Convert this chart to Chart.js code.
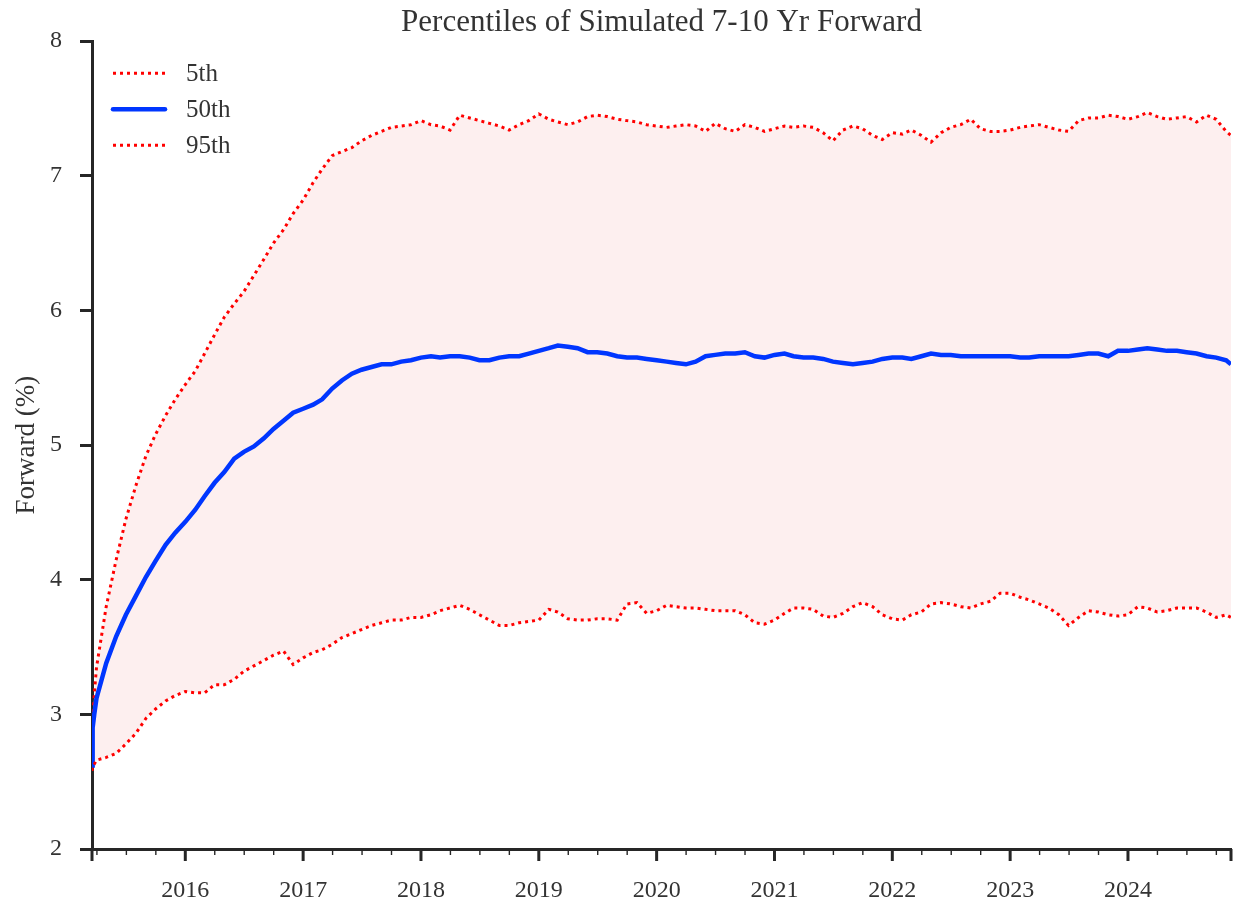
<!DOCTYPE html>
<html lang="en">
<head>
    <meta charset="UTF-8">
    <title>Percentiles of Simulated 7-10 Yr Forward</title>
    <style>
        * {
            margin: 0;
            padding: 0;
            box-sizing: border-box;
        }

        body {
            background-color: #ffffff;
        }

        canvas {
            display: block;
        }
    </style>
    <script src="https://cdn.jsdelivr.net/npm/chart.js@4/dist/chart.umd.min.js"></script>
</head>
<body>
    <canvas id="fwdChart" width="1237" height="905"></canvas>

    <script>
        // Dates: first few days of the simulation, then the first of each month
        const dates = ['2015-03-18', '2015-03-19', '2015-03-21', '2015-03-25'];
        for (let y = 2015; y <= 2024; y++) {
            for (let m = 1; m <= 12; m++) {
                if (y === 2015 && m < 4) continue;
                if (y === 2024 && m > 11) break;
                dates.push(y + '-' + String(m).padStart(2, '0') + '-01');
            }
        }
        dates.push('2024-11-16');

        const yearTicks = [2016, 2017, 2018, 2019, 2020, 2021, 2022, 2023, 2024];

        // 95th percentile (%)
        const p95 = [
            2.60, 2.80, 3.00, 3.15, 3.35, 3.80, 4.15, 4.45, 4.70, 4.92, 5.08, 5.22, 5.34,
            5.45, 5.55, 5.68, 5.82, 5.95, 6.05, 6.14, 6.26, 6.38, 6.50, 6.60, 6.72,
            6.82, 6.95, 7.05, 7.15, 7.18, 7.21, 7.26, 7.30, 7.33, 7.36, 7.37, 7.38,
            7.41, 7.38, 7.37, 7.34, 7.45, 7.43, 7.41, 7.39, 7.37, 7.34, 7.38, 7.41,
            7.46, 7.42, 7.40, 7.38, 7.40, 7.44, 7.45, 7.44, 7.42, 7.41, 7.40, 7.38,
            7.37, 7.36, 7.37, 7.38, 7.37, 7.33, 7.39, 7.35, 7.33, 7.38, 7.36, 7.33,
            7.35, 7.37, 7.36, 7.37, 7.36, 7.32, 7.26, 7.34, 7.37, 7.35, 7.30, 7.27,
            7.32, 7.31, 7.34, 7.30, 7.25, 7.32, 7.36, 7.38, 7.42, 7.35, 7.33, 7.33,
            7.34, 7.36, 7.37, 7.38, 7.36, 7.34, 7.33, 7.41, 7.43, 7.43, 7.45, 7.44,
            7.42, 7.44, 7.47, 7.44, 7.42, 7.43, 7.44, 7.40, 7.45, 7.42, 7.33, 7.30
        ];

        // 50th percentile (%)
        const p50 = [
            2.62, 2.80, 2.90, 3.00, 3.12, 3.38, 3.58, 3.74, 3.88, 4.02, 4.14, 4.26, 4.35,
            4.43, 4.52, 4.62, 4.72, 4.80, 4.90, 4.95, 4.99, 5.05, 5.12, 5.18, 5.24,
            5.27, 5.30, 5.34, 5.42, 5.48, 5.53, 5.56, 5.58, 5.60, 5.60, 5.62, 5.63,
            5.65, 5.66, 5.65, 5.66, 5.66, 5.65, 5.63, 5.63, 5.65, 5.66, 5.66, 5.68,
            5.70, 5.72, 5.74, 5.73, 5.72, 5.69, 5.69, 5.68, 5.66, 5.65, 5.65, 5.64,
            5.63, 5.62, 5.61, 5.60, 5.62, 5.66, 5.67, 5.68, 5.68, 5.69, 5.66, 5.65,
            5.67, 5.68, 5.66, 5.65, 5.65, 5.64, 5.62, 5.61, 5.60, 5.61, 5.62, 5.64,
            5.65, 5.65, 5.64, 5.66, 5.68, 5.67, 5.67, 5.66, 5.66, 5.66, 5.66, 5.66,
            5.66, 5.65, 5.65, 5.66, 5.66, 5.66, 5.66, 5.67, 5.68, 5.68, 5.66, 5.70,
            5.70, 5.71, 5.72, 5.71, 5.70, 5.70, 5.69, 5.68, 5.66, 5.65, 5.63, 5.60
        ];

        // 5th percentile (%)
        const p5 = [
            2.58, 2.60, 2.62, 2.63, 2.66, 2.68, 2.71, 2.78, 2.86, 2.97, 3.04, 3.10, 3.14,
            3.17, 3.16, 3.16, 3.22, 3.22, 3.26, 3.32, 3.36, 3.40, 3.44, 3.47, 3.37,
            3.42, 3.46, 3.48, 3.52, 3.57, 3.60, 3.63, 3.66, 3.68, 3.70, 3.70, 3.72,
            3.72, 3.74, 3.77, 3.79, 3.81, 3.78, 3.74, 3.70, 3.66, 3.66, 3.68, 3.69,
            3.70, 3.78, 3.76, 3.71, 3.70, 3.70, 3.71, 3.71, 3.70, 3.82, 3.83, 3.75,
            3.77, 3.81, 3.80, 3.79, 3.79, 3.78, 3.77, 3.77, 3.77, 3.74, 3.68, 3.67,
            3.70, 3.75, 3.79, 3.79, 3.78, 3.73, 3.72, 3.75, 3.80, 3.83, 3.80, 3.74,
            3.71, 3.70, 3.74, 3.76, 3.82, 3.83, 3.82, 3.80, 3.79, 3.82, 3.84, 3.90,
            3.90, 3.87, 3.85, 3.82, 3.79, 3.74, 3.66, 3.72, 3.77, 3.76, 3.74, 3.73,
            3.74, 3.80, 3.79, 3.76, 3.77, 3.79, 3.79, 3.79, 3.76, 3.72, 3.74, 3.72
        ];

        const SERIF = "'Liberation Serif', 'DejaVu Serif', serif";
        const INK = '#333333';
        const AXIS = '#262626';
        const RED = '#ff0000';
        const BLUE = '#0036ff';

        // date string -> decimal year
        function toYear(s) {
            const [y, m, d] = s.split('-').map(Number);
            const start = Date.UTC(y, 0, 1);
            const len = Date.UTC(y + 1, 0, 1) - start;
            return y + (Date.UTC(y, m - 1, d) - start) / len;
        }

        const xs = dates.map(toYear);
        const toPoints = arr => arr.map((v, i) => ({ x: xs[i], y: v }));

        // quarterly minor ticks and the thick end ticks on the date axis
        const dateTicks = {
            id: 'dateTicks',
            afterDraw(chart) {
                const ctx = chart.ctx;
                const xScale = chart.scales.x;
                const y0 = chart.chartArea.bottom;
                ctx.save();
                ctx.strokeStyle = AXIS;
                for (let q = 2015.25; q <= 2024.75; q += 0.25) {
                    const px = xScale.getPixelForValue(q);
                    const major = Math.abs(q - Math.round(q)) < 1e-6;
                    ctx.lineWidth = major ? 3 : 1.4;
                    ctx.beginPath();
                    ctx.moveTo(px, y0);
                    ctx.lineTo(px, y0 + (major ? 12 : 6));
                    ctx.stroke();
                }
                ctx.lineWidth = 3;
                [xScale.min, xScale.max].forEach(v => {
                    const px = xScale.getPixelForValue(v);
                    ctx.beginPath();
                    ctx.moveTo(px, y0);
                    ctx.lineTo(px, y0 + 12);
                    ctx.stroke();
                });
                ctx.restore();
            }
        };

        // legend in the top-left corner of the plot
        const cornerLegend = {
            id: 'cornerLegend',
            afterDraw(chart) {
                const ctx = chart.ctx;
                const area = chart.chartArea;
                ctx.save();
                chart.data.datasets.forEach((ds, row) => {
                    const y = area.top + 32 + row * 36;
                    ctx.strokeStyle = ds.borderColor;
                    ctx.lineWidth = ds.borderWidth;
                    ctx.setLineDash(ds.borderDash || []);
                    ctx.lineCap = ds.borderDash ? 'butt' : 'round';
                    ctx.beginPath();
                    ctx.moveTo(area.left + 21, y);
                    ctx.lineTo(area.left + 73, y);
                    ctx.stroke();
                    ctx.setLineDash([]);
                    ctx.fillStyle = INK;
                    ctx.font = '25px ' + SERIF;
                    ctx.textAlign = 'left';
                    ctx.textBaseline = 'middle';
                    ctx.fillText(ds.label, area.left + 94, y + 1);
                });
                ctx.restore();
            }
        };

        new Chart(document.getElementById('fwdChart'), {
            type: 'line',
            data: {
                datasets: [
                    {
                        label: '5th',
                        data: toPoints(p5),
                        borderColor: RED,
                        borderWidth: 3,
                        borderDash: [3, 4],
                        pointRadius: 0,
                        tension: 0,
                        fill: false
                    },
                    {
                        label: '50th',
                        data: toPoints(p50),
                        borderColor: BLUE,
                        borderWidth: 4.5,
                        pointRadius: 0,
                        tension: 0,
                        fill: false
                    },
                    {
                        label: '95th',
                        data: toPoints(p95),
                        borderColor: RED,
                        borderWidth: 3,
                        borderDash: [3, 4],
                        pointRadius: 0,
                        tension: 0,
                        fill: { target: 0 },
                        backgroundColor: '#fdefef'
                    }
                ]
            },
            options: {
                responsive: false,
                animation: false,
                devicePixelRatio: 1,
                layout: { padding: { left: 0, right: 6, top: 0, bottom: 0 } },
                plugins: {
                    legend: { display: false },
                    tooltip: { enabled: false },
                    title: {
                        display: true,
                        fullSize: false,
                        text: 'Percentiles of Simulated 7-10 Yr Forward',
                        color: INK,
                        font: { family: SERIF, size: 31, weight: 'normal' },
                        padding: { top: 4, bottom: 0 }
                    }
                },
                scales: {
                    x: {
                        type: 'linear',
                        min: toYear('2015-03-18'),
                        max: toYear('2024-11-16'),
                        afterBuildTicks: scale => {
                            scale.ticks = yearTicks.map(v => ({ value: v }));
                        },
                        afterFit: scale => { scale.height = 56; },
                        grid: { display: false },
                        border: { display: true, color: AXIS, width: 3 },
                        ticks: {
                            color: INK,
                            font: { family: SERIF, size: 24 },
                            padding: 19,
                            maxRotation: 0,
                            autoSkip: false,
                            callback: v => String(v)
                        }
                    },
                    y: {
                        min: 2,
                        max: 8,
                        afterFit: scale => { scale.width = 92; },
                        grid: {
                            drawOnChartArea: false,
                            drawTicks: true,
                            tickLength: 12,
                            tickWidth: 3,
                            tickColor: AXIS
                        },
                        border: { display: true, color: AXIS, width: 3 },
                        ticks: {
                            stepSize: 1,
                            color: INK,
                            font: { family: SERIF, size: 24 },
                            padding: 18
                        },
                        title: {
                            display: true,
                            text: 'Forward (%)',
                            color: INK,
                            font: { family: SERIF, size: 27 },
                            padding: { top: 11, bottom: 0 }
                        }
                    }
                }
            },
            plugins: [dateTicks, cornerLegend]
        });
    </script>
</body>
</html>
